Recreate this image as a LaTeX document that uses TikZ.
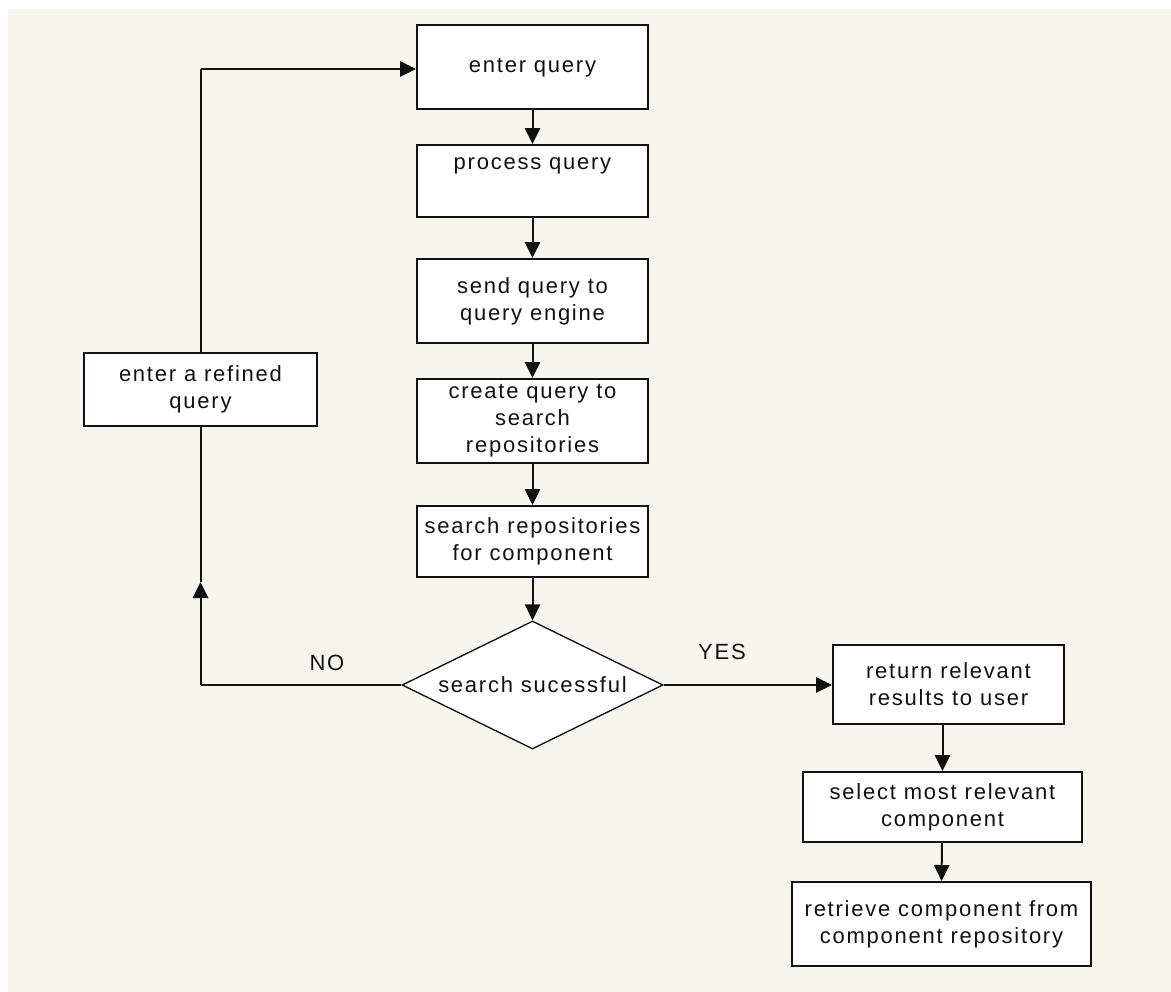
\documentclass[tikz,border=0pt]{standalone}
\usepackage{fontspec}
\setmainfont{Liberation Sans}[LetterSpace=8]
\usetikzlibrary{arrows.meta,shapes.geometric}
\definecolor{bgcream}{HTML}{F8F5EE}
\definecolor{ink}{HTML}{111111}
\tikzset{
  box/.style={draw=ink, line width=1.5pt, fill=white, inner sep=0pt, align=center,
    font=\fontsize{16.5pt}{20.25pt}\selectfont, text=ink},
  dec/.style={draw=ink, line width=1pt, fill=white, diamond, shape aspect=2.04, inner sep=0pt,
    align=center, font=\fontsize{16.5pt}{20.25pt}\selectfont, text=ink},
  lbl/.style={font=\fontsize{16.5pt}{20.25pt}\selectfont, text=ink, inner sep=0pt},
  conn/.style={draw=ink, line width=1.5pt},
  arr/.style={conn, -{Triangle[length=12pt,width=11.5pt]}},
}
\begin{document}
\begin{tikzpicture}[x=0.75pt,y=-0.75pt]
\useasboundingbox (0,0) rectangle (1171,992);
\fill[white] (0,0) rectangle (1171,992);
\fill[bgcream] (8,9) rectangle (1171,992);

% main column
\node[box, minimum width=173.25pt, minimum height=63pt] (q1) at (532.5,67) {\strut enter query};
\node[box, minimum width=173.25pt, minimum height=54pt] (q2) at (532.5,181) {process query\\\strut};
\node[box, minimum width=173.25pt, minimum height=63pt] (q3) at (532.5,301) {send query to\\query engine};
\node[box, minimum width=173.25pt, minimum height=63pt] (q4) at (532.5,421) {create query to\\search\\repositories};
\node[box, minimum width=173.25pt, minimum height=53.25pt] (q5) at (532.5,541.5) {search repositories\\for component};
\node[dec, minimum width=195.75pt, minimum height=96pt] (d) at (532.5,685) {search sucessful};

% left loop
\node[box, minimum width=174.75pt, minimum height=54.75pt] (r) at (200.5,389.5) {enter a refined\\query};

% right column
\node[box, minimum width=173.25pt, minimum height=59.25pt] (a1) at (948.5,684.5) {return relevant\\results to user};
\node[box, minimum width=209.25pt, minimum height=52.5pt] (a2) at (942.5,807) {select most relevant\\component};
\node[box, minimum width=224.25pt, minimum height=63pt] (a3) at (941.5,924) {retrieve component from\\component repository};

% labels
\node[lbl] (no) at (327,663) {NO};
\node[lbl] (yes) at (722,651.5) {YES};

% connectors
\draw[arr] (q1) -- (q2);
\draw[arr] (q2) -- (q3);
\draw[arr] (q3) -- (q4);
\draw[arr] (q4) -- (q5);
\draw[arr] (q5) -- (d.north);
\draw[arr] (d.east) -- (d.east -| a1.west);
\draw[arr] (a2.north |- a1.south) -- (a2.north);
\draw[arr] (a2) -- (a3.north);

\coordinate (cno) at (r.south |- d.west);
\coordinate (tip) at (200.5,582);
\coordinate (ctop) at (200.5,69);
\coordinate (qin) at (q1.west |- ctop);
\draw[conn] (d.west) -- (cno);
\draw[arr] (cno) -- (tip);
\draw[conn] (tip) -- (r.south);
\draw[conn] (r.north) -- (ctop);
\draw[arr] (ctop) -- (qin);
\end{tikzpicture}
\end{document}
